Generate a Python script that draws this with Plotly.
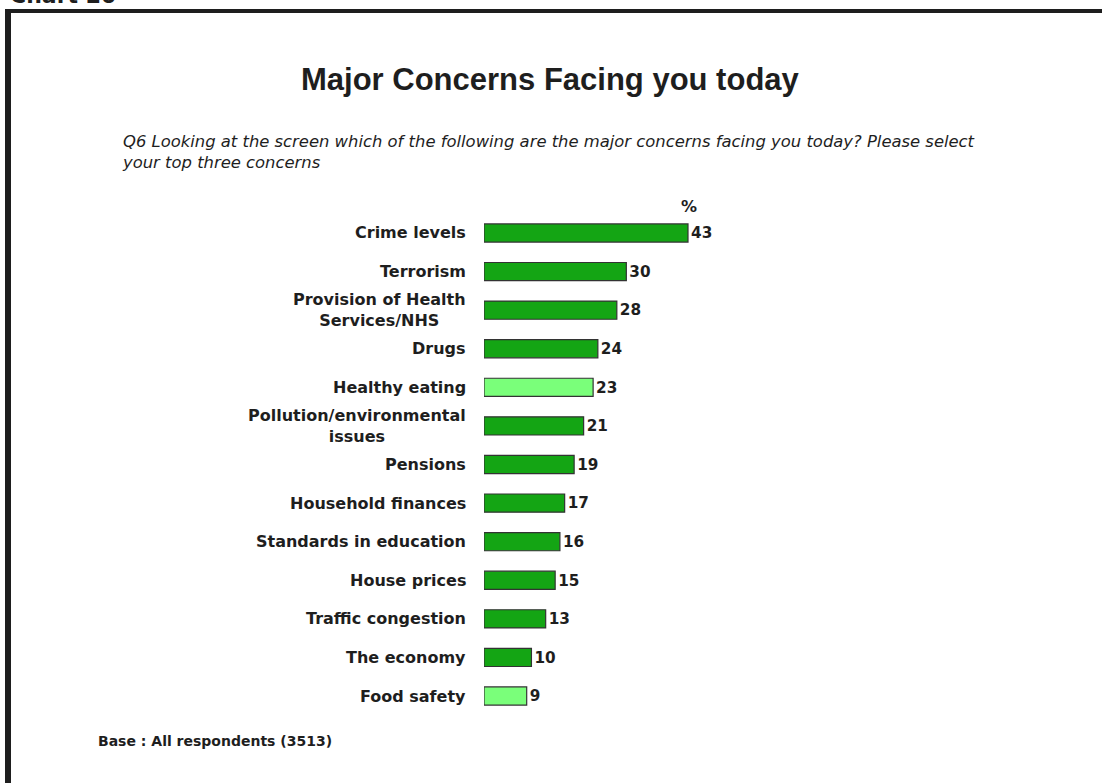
import plotly.graph_objects as go

# Survey results: share of respondents naming each concern (%)
categories = [
    "Crime levels",
    "Terrorism",
    "Provision of Health<br>Services/NHS",
    "Drugs",
    "Healthy eating",
    "Pollution/environmental<br>issues",
    "Pensions",
    "Household finances",
    "Standards in education",
    "House prices",
    "Traffic congestion",
    "The economy",
    "Food safety",
]
values = [43, 30, 28, 24, 23, 21, 19, 17, 16, 15, 13, 10, 9]
highlighted = ["Healthy eating", "Food safety"]

title_text = "Major Concerns Facing you today"
question_text = ("Q6 Looking at the screen which of the following are the major concerns facing you today? Please select"
                 "<br>your top three concerns")
base_text = "Base : All respondents (3513)"
chart_label = "Chart 20"

W, H = 1102, 783
DARK_GREEN = "#14a514"
LIGHT_GREEN = "#7aff7a"
TEXT = "#1e1e1e"
LABEL_FONT = "DejaVu Sans"


def px_x(p):
    return p / W


def px_y(p):
    return 1 - p / H


bar_colors = [LIGHT_GREEN if c in highlighted else DARK_GREEN for c in categories]

fig = go.Figure(
    go.Bar(
        x=values,
        y=categories,
        orientation="h",
        marker=dict(color=bar_colors, line=dict(color="#333333", width=1.2)),
        width=0.47,
        text=values,
        texttemplate="%{x}",
        textposition="outside",
        textfont=dict(family=LABEL_FONT, size=16, color=TEXT, weight="bold"),
        cliponaxis=False,
        hoverinfo="skip",
    )
)

annotations = []
# category labels, right-aligned next to the bars, multi-line labels centred
for c in categories:
    annotations.append(dict(
        x=px_x(468), xref="paper", xanchor="right",
        y=c, yref="y", yanchor="middle",
        text=c, align="center", showarrow=False,
        font=dict(family=LABEL_FONT, size=16, color=TEXT, weight="bold"),
    ))

annotations += [
    dict(x=px_x(550), y=px_y(79), xref="paper", yref="paper",
         xanchor="center", yanchor="middle", showarrow=False,
         text=title_text,
         font=dict(family="Liberation Sans, Arial", size=31, color=TEXT, weight="bold")),
    dict(x=px_x(120), y=px_y(152), xref="paper", yref="paper",
         xanchor="left", yanchor="middle", showarrow=False, align="left",
         text=question_text,
         font=dict(family=LABEL_FONT, size=16.4, color=TEXT, style="italic")),
    dict(x=px_x(689), y=px_y(206), xref="paper", yref="paper",
         xanchor="center", yanchor="middle", showarrow=False,
         text="%",
         font=dict(family=LABEL_FONT, size=16, color=TEXT, weight="bold")),
    dict(x=px_x(96), y=px_y(741), xref="paper", yref="paper",
         xanchor="left", yanchor="middle", showarrow=False,
         text=base_text,
         font=dict(family=LABEL_FONT, size=14, color=TEXT, weight="bold")),
    dict(x=px_x(8), y=px_y(10), xref="paper", yref="paper",
         xanchor="left", yanchor="bottom", showarrow=False,
         text=chart_label,
         font=dict(family=LABEL_FONT, size=22, color=TEXT, weight="bold")),
]

# frame around the chart panel
shapes = [
    dict(type="line", xref="paper", yref="paper",
         x0=px_x(8), x1=px_x(8), y0=px_y(9), y1=px_y(790),
         line=dict(color="#1e1e1e", width=6)),
    dict(type="line", xref="paper", yref="paper",
         x0=px_x(5), x1=px_x(1110), y0=px_y(11), y1=px_y(11),
         line=dict(color="#1e1e1e", width=4)),
]

row_top, row_bottom = 213.7, 715.3
x_left, px_per_unit, x_max = 484, 204 / 43, 50

fig.update_layout(
    width=W, height=H,
    margin=dict(l=0, r=0, t=0, b=0),
    paper_bgcolor="white", plot_bgcolor="white",
    showlegend=False,
    xaxis=dict(domain=[px_x(x_left), px_x(x_left + x_max * px_per_unit)],
               range=[0, x_max], visible=False, fixedrange=True),
    yaxis=dict(domain=[px_y(row_bottom), px_y(row_top)], type="category",
               range=[len(categories) - 0.5, -0.5], visible=False, fixedrange=True),
    annotations=annotations,
    shapes=shapes,
)

fig.write_html("out.html")
